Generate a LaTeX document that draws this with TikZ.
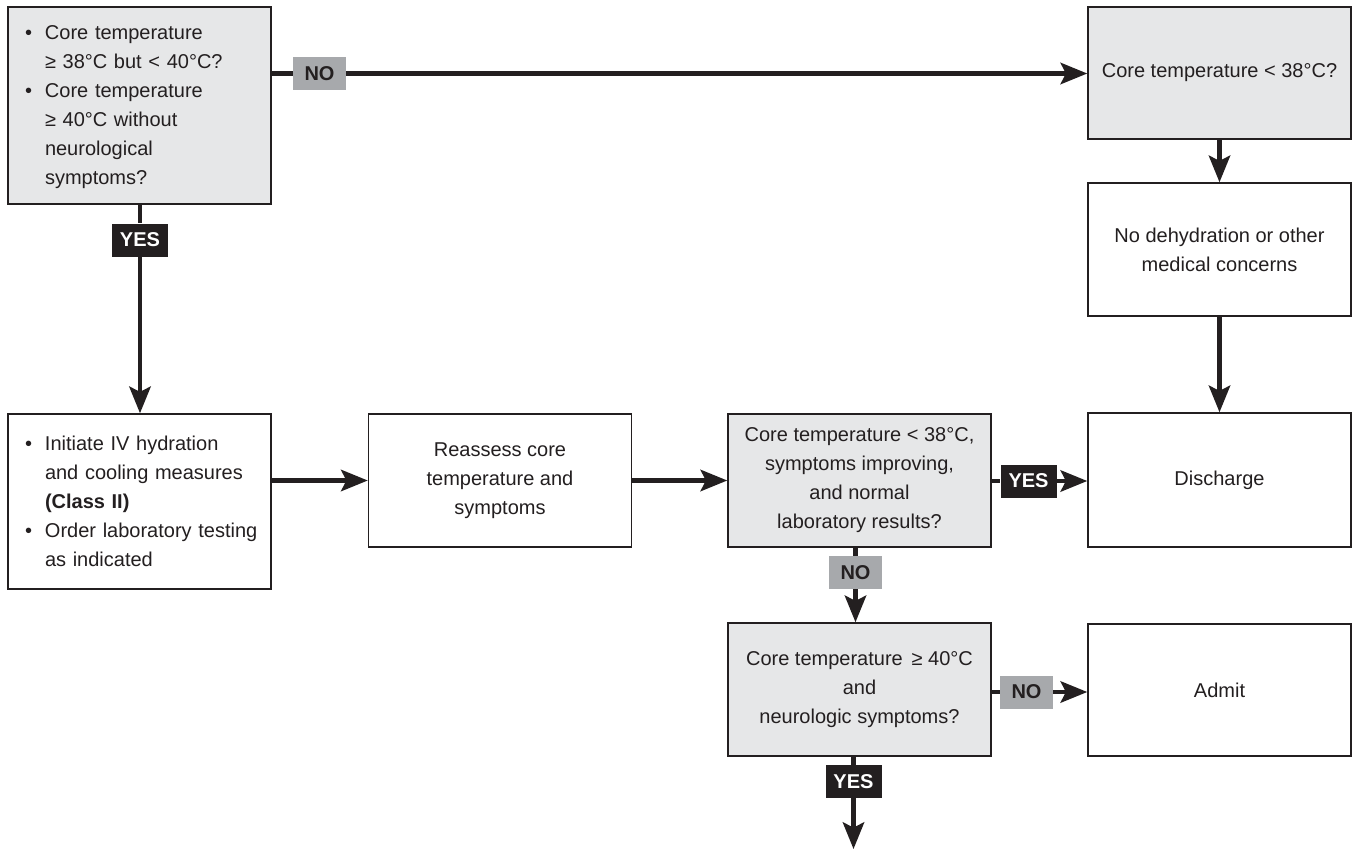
\documentclass[tikz,border=0pt]{standalone}
\usepackage{fontspec}
\setmainfont{Liberation Sans}
\usetikzlibrary{arrows.meta}
\definecolor{ink}{HTML}{231F20}
\definecolor{boxgray}{HTML}{E6E7E8}
\definecolor{labgray}{HTML}{A7A9AC}
\newcommand{\blt}{\makebox[15pt][l]{•}}
\newcommand{\indt}{\hspace*{15pt}}
\begin{document}
\begin{tikzpicture}[x=0.75pt,y=-0.75pt,
  box/.style={draw=ink, line width=1.1pt, minimum width=197.25pt, inner sep=0pt, text=ink,
    font=\fontsize{15}{21.75}\selectfont, align=center},
  gbox/.style={box, fill=boxgray},
  wbox/.style={box, fill=white},
  line/.style={draw=ink, line width=3.3pt},
  arr/.style={line, -{Stealth[length=20pt,width=16pt,inset=4pt]}},
  nolab/.style={fill=labgray, text=ink, font=\bfseries\fontsize{15}{18}\selectfont,
    minimum width=39.75pt, minimum height=24.75pt, inner sep=0pt},
  yeslab/.style={fill=ink, text=white, font=\bfseries\fontsize{15}{18}\selectfont,
    minimum width=42pt, minimum height=24.75pt, inner sep=0pt}]
\useasboundingbox (0,0) rectangle (1353,850);

% boxes
\node[gbox, minimum height=147.75pt, text width=171.75pt, align=left] (b1) at (139.5,105.5)
  {\blt Core temperature\\\indt ≥ 38°C but < 40°C?\\\blt Core temperature\\\indt ≥ 40°C without\\\indt neurological\\\indt symptoms?\vspace*{-3pt}};
\node[gbox, minimum height=99pt] (b2) at (1219.5,73) {Core temperature < 38°C?};
\node[wbox, minimum height=99.75pt] (b3) at (1219.5,249.5) {No dehydration or other\\medical concerns};
\node[wbox, minimum height=100.5pt] (dis) at (1219.5,480) {Discharge};
\node[wbox, minimum height=131.25pt, text width=171.75pt, align=left] (b4) at (139.5,501.5)
  {\blt Initiate IV hydration\\\indt and cooling measures\\\indt \textbf{(Class II)}\\\mbox{\blt Order laboratory testing}\\\indt as indicated};
\node[wbox, minimum height=99.75pt] (b5) at (500,480.5) {Reassess core\\temperature and\\symptoms};
\node[gbox, minimum height=99.75pt] (b6) at (859.5,480.5) {Core temperature < 38°C,\\symptoms improving,\\and normal\\laboratory results?};
\node[gbox, minimum height=99.75pt] (b7) at (859.5,689.5) {Core temperature \,≥ 40°C\\and\\neurologic symptoms?};
\node[wbox, minimum height=99pt] (adm) at (1219.5,690) {Admit};

% labels
\node[nolab] (no1) at (319.5,73.5) {NO};
\node[yeslab] (yes1) at (140,240) {YES};
\node[yeslab] (yes2) at (1028.5,481) {YES};
\node[nolab] (no2) at (855.5,572.5) {NO};
\node[nolab] (no3) at (1026.5,692) {NO};
\node[yeslab] (yes3) at (853.5,781.5) {YES};
\coordinate (end) at (855,849);

% connectors
\draw[line] (no1.west -| b1.east) -- (no1.west);
\draw[arr] (no1.east) -- (no1.east -| b2.west);
\draw[arr] (b2.south) -- (b3.north);
\draw[arr] (b3.south) -- (dis.north);
\draw[line] (b1.south -| yes1) -- (yes1.north);
\draw[arr] (yes1.south) -- (yes1.south |- b4.north);
\draw[arr] (b4.east |- b5.west) -- (b5.west);
\draw[arr] (b5.east) -- (b6.west);
\draw[line] (b6.east |- yes2.west) -- (yes2.west);
\draw[arr] (yes2.east) -- (yes2.east -| dis.west);
\draw[line] (b6.south -| no2) -- (no2.north);
\draw[arr] (no2.south) -- (no2.south |- b7.north);
\draw[line] (b7.east |- no3.west) -- (no3.west);
\draw[arr] (no3.east) -- (no3.east -| adm.west);
\draw[line] (b7.south -| yes3) -- (yes3.north);
\draw[arr] (yes3.south) -- (yes3.south |- end);
\end{tikzpicture}
\end{document}
